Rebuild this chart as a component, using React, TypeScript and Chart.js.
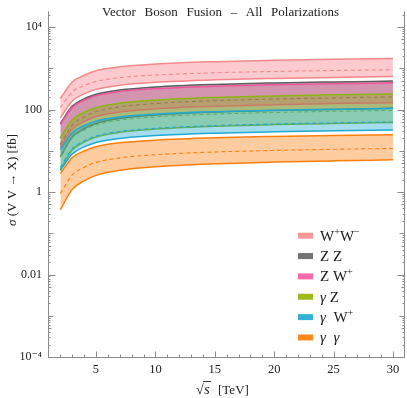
import React, { useEffect, useRef } from 'react';
import { Chart, registerables } from 'chart.js';

Chart.register(...registerables);

// sqrt(s) in TeV
const energies = [2, 3, 4, 5, 7, 10, 15, 20, 25, 30];

// cross sections in fb: upper edge, central (dashed), lower edge
const wwUp = [186, 466, 681, 869, 1086, 1271, 1452, 1570, 1663, 1738];
const wwMid = [112, 266, 381, 480, 593, 687, 780, 839, 885, 923];
const wwLow = [63, 162, 240, 309, 389, 457, 525, 569, 603, 631];

const zzUp = [45.7, 121, 181, 235, 298, 352, 406, 441, 467, 490];
const zzMid = [14.1, 42.1, 66.2, 88.7, 116, 140, 164, 180, 192, 203];
const zzLow = [7.08, 21.6, 34.2, 46.1, 60.5, 73.3, 86.3, 94.8, 101, 107];

const zwUp = [43.6, 113, 167, 216, 273, 321, 368, 400, 424, 444];
const zwLow = [12.0, 33.6, 51.3, 67.6, 86.9, 104, 120, 131, 140, 147];

const gzUp = [20.4, 55.8, 84.9, 111, 142, 169, 196, 213, 227, 238];
const gzMid = [7.08, 20.6, 32.0, 42.7, 55.3, 66.4, 77.6, 84.9, 90.6, 95.5];
const gzLow = [3.55, 10.4, 16.2, 21.6, 28.0, 33.7, 39.4, 43.2, 46.0, 48.5];

const gwUp = [10.7, 27.5, 40.6, 52.4, 65.8, 77.3, 88.7, 96.2, 102, 107];
const gwMid = [3.98, 11.2, 17.3, 22.9, 29.4, 35.2, 40.9, 44.7, 47.6, 50.1];
const gwLow = [3.31, 8.41, 12.4, 15.9, 20.0, 23.4, 26.8, 29.0, 30.7, 32.1];

const ggUp = [2.82, 6.84, 9.89, 12.6, 15.6, 18.1, 20.7, 22.3, 23.5, 24.5];
const ggMid = [0.923, 2.59, 3.97, 5.24, 6.73, 8.04, 9.35, 10.2, 10.9, 11.4];
const ggLow = [0.372, 1.16, 1.87, 2.54, 3.36, 4.08, 4.82, 5.32, 5.70, 6.03];

const xTickValues = [5, 10, 15, 20, 25, 30];
const yTickValues = [1e-4, 0.01, 1, 100, 1e4];
const yTickLabels = ['10\u207B\u2074', '0.01', '1', '100', '10\u2074'];

const titleText = 'Vector Boson Fusion \u2013 All Polarizations';

type Seg = { t: string; it?: boolean; sup?: boolean };

const legendNames: Seg[][] = [
  [{ t: 'W' }, { t: '+', sup: true }, { t: 'W' }, { t: '\u2212', sup: true }],
  [{ t: 'Z Z' }],
  [{ t: 'Z W' }, { t: '+', sup: true }],
  [{ t: '\u03B3', it: true }, { t: ' Z' }],
  [{ t: '\u03B3', it: true }, { t: '  W' }, { t: '+', sup: true }],
  [{ t: '\u03B3', it: true }, { t: '  ' }, { t: '\u03B3', it: true }],
];

const bands = [
  { up: wwUp, mid: wwMid, low: wwLow, line: 'rgb(244,136,138)', fill: 'rgba(250,128,140,0.42)', key: 'rgb(246,140,140)' },
  { up: zzUp, mid: zzMid, low: zzLow, line: 'rgb(92,92,92)', fill: 'rgba(95,95,95,0.40)', key: 'rgb(100,100,100)' },
  { up: zwUp, mid: null, low: zwLow, line: 'rgb(242,84,156)', fill: 'rgba(242,84,156,0.40)', key: 'rgb(248,90,160)' },
  { up: gzUp, mid: gzMid, low: gzLow, line: 'rgb(140,180,20)', fill: 'rgba(140,180,20,0.40)', key: 'rgb(145,180,0)' },
  { up: gwUp, mid: gwMid, low: gwLow, line: 'rgb(32,170,210)', fill: 'rgba(32,170,210,0.40)', key: 'rgb(30,170,210)' },
  { up: ggUp, mid: ggMid, low: ggLow, line: 'rgb(255,127,14)', fill: 'rgba(255,127,14,0.40)', key: 'rgb(255,125,0)' },
];

const FAM = "'Liberation Serif', 'DejaVu Serif', 'Times New Roman', serif";

function segFont(s: Seg, size: number) {
  return `${s.it ? 'italic ' : ''}${s.sup ? (size * 0.68).toFixed(1) : size}px ${FAM}`;
}

function richWidth(ctx: CanvasRenderingContext2D, segs: Seg[], size: number) {
  let w = 0;
  for (const s of segs) {
    ctx.font = segFont(s, size);
    w += ctx.measureText(s.t).width;
  }
  return w;
}

function drawRich(ctx: CanvasRenderingContext2D, segs: Seg[], x: number, y: number, size: number, align: 'left' | 'center') {
  let cx = align === 'center' ? x - richWidth(ctx, segs, size) / 2 : x;
  ctx.textAlign = 'left';
  ctx.textBaseline = 'alphabetic';
  for (const s of segs) {
    ctx.font = segFont(s, size);
    ctx.fillText(s.t, cx, s.sup ? y - size * 0.4 : y);
    cx += ctx.measureText(s.t).width;
  }
}

const decorPlugin = {
  id: 'decor',
  afterDraw(chart: any) {
    const { ctx, chartArea: a, scales } = chart;
    const xs = scales.x;
    const ys = scales.y;
    ctx.save();
    // frame
    ctx.strokeStyle = '#8c8c8c';
    ctx.lineWidth = 1;
    ctx.beginPath();
    const L = Math.round(a.left) + 0.5;
    const R = Math.round(a.right) + 0.5;
    const B = Math.round(a.bottom) + 0.5;
    ctx.moveTo(L, a.top - 2);
    ctx.lineTo(L, B);
    ctx.lineTo(R, B);
    ctx.lineTo(R, a.top - 2);
    ctx.stroke();
    // x ticks (inward)
    ctx.beginPath();
    for (let v = 1; v <= 30; v++) {
      const px = Math.round(xs.getPixelForValue(v)) + 0.5;
      const len = v % 5 === 0 ? 6 : 3;
      ctx.moveTo(px, B);
      ctx.lineTo(px, B - len);
    }
    // y ticks (inward, both sides)
    for (let k = -4; k <= 4; k++) {
      for (let m = 1; m <= 9; m++) {
        const val = m * Math.pow(10, k);
        if (val > ys.max) continue;
        const py = Math.round(ys.getPixelForValue(val)) + 0.5;
        const len = m === 1 ? (k % 2 === 0 ? 7 : 5) : (m === 5 ? 3 : 2);
        ctx.moveTo(L, py);
        ctx.lineTo(L + len, py);
        ctx.moveTo(R, py);
        ctx.lineTo(R - len, py);
      }
    }
    ctx.stroke();

    // title
    ctx.fillStyle = '#222';
    ctx.font = `13px ${FAM}`;
    const words = titleText.split(' ');
    const widths = words.map((w) => ctx.measureText(w).width);
    const total = widths.reduce((p, c) => p + c, 0);
    const left = 102;
    const right = 339;
    const gap = (right - left - total) / (words.length - 1);
    let cx = left;
    ctx.textAlign = 'left';
    ctx.textBaseline = 'alphabetic';
    words.forEach((w, i) => {
      ctx.fillText(w, cx, 15.5);
      cx += widths[i] + gap;
    });

    // legend
    legendNames.forEach((segs, i) => {
      const cy = 235.7 + i * 20.35;
      ctx.fillStyle = bands[i].key;
      ctx.globalAlpha = 0.9;
      ctx.fillRect(298, cy - 3, 15, 6);
      ctx.globalAlpha = 1;
      ctx.fillStyle = '#1a1a1a';
      drawRich(ctx, segs, 320, cy + 5, 15, 'left');
    });

    // x axis title: sqrt(s) [TeV]
    ctx.fillStyle = '#222';
    ctx.font = `14px ${FAM}`;
    ctx.fillText('\u221A', 196, 394);
    const rw = ctx.measureText('\u221A').width;
    ctx.font = `italic 14px ${FAM}`;
    const sx = 196 + rw;
    ctx.fillText('s', sx + 0.5, 394);
    const sw = ctx.measureText('s').width;
    ctx.strokeStyle = '#222';
    ctx.lineWidth = 0.9;
    ctx.beginPath();
    ctx.moveTo(sx - 0.5, 381.5);
    ctx.lineTo(sx + sw + 2, 381.5);
    ctx.stroke();
    ctx.font = `13px ${FAM}`;
    ctx.fillText('[TeV]', 218, 394);

    // y axis title
    ctx.save();
    ctx.translate(16, 180);
    ctx.rotate(-Math.PI / 2);
    ctx.fillStyle = '#222';
    drawRich(ctx, [{ t: '\u03C3', it: true }, { t: ' (V V \u2192 X) [fb]' }], 0, 0, 13, 'center');
    ctx.restore();

    ctx.restore();
  },
};

export default function App() {
  const ref = useRef<HTMLCanvasElement | null>(null);
  useEffect(() => {
    if (!ref.current) return;
    const pts = (arr: number[]) => energies.map((e, i) => ({ x: e, y: arr[i] }));
    const datasets: any[] = [];
    let order = 1000;
    bands.forEach((b) => {
      // upper then lower so that fill '+1' targets the lower edge
      datasets.push({
        data: pts(b.up),
        borderColor: b.line,
        borderWidth: 1.5,
        backgroundColor: b.fill,
        fill: '+1',
        order: order - 1,
      });
      datasets.push({
        data: pts(b.low),
        borderColor: b.line,
        borderWidth: 1.5,
        fill: false,
        order: order,
      });
      if (b.mid) {
        datasets.push({
          data: pts(b.mid),
          borderColor: b.line,
          borderWidth: 1.1,
          borderDash: [4, 3],
          fill: false,
          order: order - 2,
        });
      }
      order -= 10;
    });

    const chart = new Chart(ref.current, {
      type: 'line',
      data: { datasets },
      options: {
        responsive: false,
        animation: false,
        layout: { padding: { top: 0, right: 3, left: 0, bottom: 0 } },
        plugins: { legend: { display: false }, tooltip: { enabled: false }, title: { display: false } },
        elements: { point: { radius: 0 }, line: { cubicInterpolationMode: 'monotone' } },
        scales: {
          x: {
            type: 'linear',
            min: 0.96,
            max: 30.93,
            grid: { display: false, drawTicks: false },
            border: { display: false },
            afterBuildTicks: (s: any) => {
              s.ticks = xTickValues.map((v) => ({ value: v }));
            },
            afterFit: (s: any) => {
              s.height = 41;
            },
            ticks: {
              autoSkip: false,
              maxRotation: 0,
              padding: 5,
              color: '#222',
              font: { family: FAM, size: 12.5 },
              callback: (v: any) => String(v),
            },
          },
          y: {
            type: 'logarithmic',
            min: 1e-4,
            max: 21700,
            grid: { display: false, drawTicks: false },
            border: { display: false },
            afterBuildTicks: (s: any) => {
              s.ticks = yTickValues.map((v) => ({ value: v }));
            },
            afterFit: (s: any) => {
              s.width = 48;
            },
            ticks: {
              autoSkip: false,
              padding: 6,
              color: '#222',
              font: { family: FAM, size: 12 },
              callback: (v: any) => {
                const i = yTickValues.findIndex((t) => Math.abs(Math.log10(t) - Math.log10(v)) < 1e-6);
                return i >= 0 ? yTickLabels[i] : '';
              },
            },
          },
        },
      },
      plugins: [decorPlugin],
    } as any);
    return () => chart.destroy();
  }, []);

  return (
    <div style={{ position: 'absolute', left: 0, top: 0, width: 407, height: 398, background: '#fff' }}>
      <canvas ref={ref} width={407} height={398} style={{ display: 'block' }} />
    </div>
  );
}
